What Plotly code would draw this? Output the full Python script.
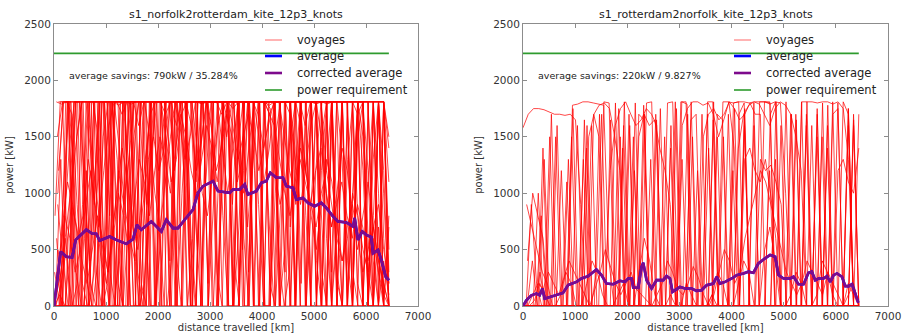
import numpy as np
import plotly.graph_objects as go

W, H = 904, 333

titles = ["s1_norfolk2rotterdam_kite_12p3_knots", "s1_rotterdam2norfolk_kite_12p3_knots"]
savings_text = ["average savings: 790kW / 35.284%", "average savings: 220kW / 9.827%"]
power_requirement = 2240
voyage_end_km = 6440
x_ticks = [0, 1000, 2000, 3000, 4000, 5000, 6000, 7000]
y_ticks = [0, 500, 1000, 1500, 2000, 2500]

# ---- left panel: norfolk -> rotterdam voyages (kW, sampled ~every 100 km) ----
left_offsets = [0, 50, 25, 75, 10, 60, 35, 85, 5, 55, 30, 80, 15, 65, 40, 90, 20, 70, 45, 95, 12, 62, 37, 87, 22, 72]
left_voyages = [
    [0, 300, 1200, 1810, 1810, 1810, 900, 200, 0, 0, 600, 1810, 1810, 1700, 1810, 1400, 300, 0, 800, 1810, 1810, 1810, 1810, 1200, 1810, 1810, 600, 0, 0, 1100, 1810, 1810, 1810, 1500, 1810, 1810, 1810, 700, 1300, 1810, 1810, 1810, 1810, 400, 0, 300, 1810, 1810, 1600, 1810, 1810, 900, 0, 0, 700, 1810, 1810, 1810, 200, 0, 0, 1300, 1810, 1000, 0],
    [600, 0, 0, 0, 200, 900, 1810, 1810, 1500, 0, 0, 0, 400, 1810, 1810, 1810, 1810, 800, 0, 0, 1300, 1810, 1810, 500, 0, 1810, 1810, 1810, 1810, 1810, 1100, 1810, 1810, 1810, 0, 0, 1200, 1810, 1810, 1810, 1810, 1700, 1810, 1810, 300, 1810, 1810, 1810, 800, 0, 0, 1500, 1810, 1810, 1810, 1300, 0, 0, 1810, 1810, 600, 0, 0, 400, 100],
    [0, 0, 1810, 1810, 300, 0, 0, 0, 1000, 1810, 1810, 1810, 200, 0, 700, 1810, 1600, 1810, 1810, 1810, 0, 0, 0, 1810, 1810, 1810, 1810, 1100, 1810, 1810, 1810, 300, 0, 1810, 1810, 1810, 1810, 1810, 1810, 900, 0, 1810, 1810, 1810, 1810, 1810, 1400, 0, 0, 1810, 1810, 1810, 1200, 1810, 1810, 0, 0, 900, 1810, 1810, 1810, 1810, 300, 0, 0],
    [1000, 1810, 1810, 600, 0, 0, 0, 300, 1810, 1810, 800, 1810, 1810, 1810, 0, 0, 0, 1200, 1810, 1810, 1810, 1810, 1810, 0, 1000, 1810, 1810, 400, 1810, 1810, 1810, 1810, 1810, 1600, 0, 700, 1810, 1810, 1810, 1810, 1810, 200, 0, 1810, 1810, 1810, 900, 1810, 1810, 1810, 400, 0, 1810, 1810, 800, 0, 0, 1810, 1810, 1500, 0, 0, 1810, 1810, 1400],
    [0, 100, 0, 500, 1810, 1810, 1810, 1810, 300, 0, 900, 1810, 1300, 0, 0, 1810, 1810, 1810, 1810, 1810, 700, 0, 1810, 1810, 1810, 1810, 0, 0, 1400, 1810, 1810, 1810, 1810, 1810, 1810, 1810, 500, 1810, 1810, 1810, 0, 0, 1810, 1810, 1810, 1810, 1810, 1810, 0, 0, 1810, 1810, 1810, 300, 1810, 1810, 1810, 0, 0, 0, 1100, 1810, 500, 0, 0],
    [200, 700, 1100, 900, 600, 800, 1300, 1000, 700, 1200, 1600, 1810, 1400, 900, 600, 400, 800, 1300, 1700, 1810, 1810, 1500, 1100, 1300, 1700, 1810, 1810, 1400, 1000, 800, 1200, 1600, 1810, 1810, 1810, 1300, 1000, 1400, 1810, 1810, 1810, 1700, 1200, 900, 1100, 1500, 1810, 1600, 1200, 800, 500, 900, 1300, 1100, 700, 400, 600, 1000, 800, 500, 300, 700, 900, 500, 200],
    [0, 0, 0, 0, 1500, 1810, 200, 0, 0, 0, 1810, 1810, 1810, 1810, 1000, 0, 0, 1810, 1810, 0, 0, 1300, 1810, 1810, 1810, 1810, 600, 0, 1810, 1810, 1810, 1810, 0, 0, 0, 1810, 1810, 1810, 1810, 1810, 1810, 1810, 1810, 0, 500, 1810, 1810, 0, 0, 1810, 1810, 1810, 1810, 1810, 300, 0, 0, 0, 1810, 1810, 1810, 0, 0, 0, 700],
    [1810, 1810, 1810, 1200, 0, 0, 1810, 1810, 900, 0, 0, 0, 1810, 1810, 1810, 600, 1810, 1810, 0, 0, 1810, 1810, 1810, 1810, 0, 0, 600, 1810, 1810, 1810, 0, 1100, 1810, 1810, 1810, 200, 1810, 1810, 1810, 1810, 0, 0, 1000, 1810, 1810, 1810, 1810, 200, 1810, 1810, 1810, 0, 0, 1810, 1810, 1810, 400, 0, 1810, 1200, 0, 800, 1810, 0, 0],
    [0, 400, 800, 600, 300, 500, 900, 1200, 800, 400, 200, 600, 1000, 1400, 1100, 700, 500, 900, 1300, 1500, 1200, 1400, 1810, 1810, 1600, 1300, 1500, 1810, 1810, 1810, 1600, 1200, 1400, 1700, 1500, 1100, 1300, 1810, 1810, 1700, 1400, 1600, 1810, 1810, 1500, 1200, 1000, 1300, 1100, 900, 1200, 1400, 1000, 700, 900, 1100, 800, 600, 900, 700, 400, 600, 300, 100, 0],
    [300, 0, 1810, 1810, 1810, 0, 0, 700, 1810, 1810, 0, 0, 0, 800, 1810, 1810, 1810, 1810, 1810, 0, 600, 1810, 1810, 0, 0, 1810, 1810, 1810, 1810, 1810, 1810, 1810, 800, 0, 1810, 1810, 1810, 1810, 0, 0, 1810, 1810, 1810, 1810, 1810, 700, 1810, 1810, 1810, 0, 0, 1200, 1810, 1810, 1810, 1810, 0, 0, 1500, 1810, 1810, 1810, 1000, 0, 0],
    [0, 1300, 0, 0, 0, 1810, 1810, 1810, 1810, 0, 200, 1810, 1810, 0, 0, 1500, 1810, 0, 1810, 1810, 1810, 1810, 1300, 0, 1810, 1810, 0, 0, 1810, 1810, 1810, 1810, 1810, 1810, 0, 1400, 1810, 1810, 0, 1810, 1810, 1810, 1810, 1810, 1810, 0, 0, 1810, 1810, 1810, 1810, 1810, 0, 0, 600, 1810, 1810, 1810, 1810, 0, 0, 0, 1810, 1810, 300],
    [500, 0, 0, 1810, 1810, 1810, 1810, 900, 1810, 1810, 300, 0, 1810, 1810, 1810, 0, 0, 1300, 1810, 1810, 1810, 0, 0, 0, 1810, 1810, 1810, 1810, 1810, 200, 1810, 1810, 1810, 0, 0, 1810, 1810, 1810, 1200, 0, 1810, 1810, 1810, 1810, 0, 0, 1810, 1810, 1810, 1810, 1810, 300, 0, 1810, 1810, 1810, 0, 1000, 1810, 1810, 0, 0, 0, 0, 800],
    [0, 0, 600, 0, 0, 0, 1810, 1810, 1810, 1810, 1810, 0, 0, 1810, 1810, 1810, 0, 0, 0, 1810, 1810, 1810, 1810, 1810, 1810, 1400, 0, 1810, 1810, 1810, 1810, 0, 1000, 1810, 1810, 1810, 1810, 0, 1810, 1810, 1810, 800, 0, 1810, 1810, 1810, 1810, 1810, 1810, 0, 1200, 1810, 1810, 1810, 0, 0, 0, 1810, 1810, 1810, 1810, 600, 0, 1810, 200],
    [1500, 1810, 300, 0, 0, 0, 0, 1810, 1810, 400, 0, 1810, 1810, 1810, 1810, 1810, 0, 0, 1810, 1810, 1810, 1000, 0, 1810, 1810, 1810, 1810, 1810, 0, 0, 1810, 1810, 1810, 1810, 1810, 1810, 600, 0, 1810, 1810, 0, 0, 1810, 1810, 1810, 1810, 0, 1810, 1810, 1810, 1810, 1810, 1810, 1810, 0, 0, 1810, 1810, 800, 0, 1810, 1810, 1810, 1200, 0],
    [100, 300, 700, 1100, 1500, 1810, 1810, 1300, 900, 500, 300, 700, 1200, 900, 1300, 1810, 1810, 1810, 1500, 1000, 700, 1100, 1500, 1810, 1810, 1810, 1600, 1200, 1500, 1810, 1810, 1810, 1400, 1000, 1400, 1810, 1810, 1810, 1810, 1500, 1100, 1400, 1810, 1810, 1810, 1700, 1300, 900, 1200, 1600, 1810, 1500, 1000, 700, 1000, 1400, 1200, 800, 500, 800, 1100, 700, 400, 200, 0],
    [0, 0, 0, 1810, 1810, 600, 0, 1810, 1810, 1810, 1810, 0, 0, 0, 1810, 1810, 200, 0, 1810, 1810, 1810, 1810, 1810, 0, 0, 1810, 1810, 1810, 1810, 0, 900, 1810, 1810, 1810, 1810, 1810, 0, 1810, 1810, 1810, 1810, 0, 1500, 1810, 1810, 0, 0, 1810, 1810, 1810, 0, 0, 1810, 1810, 1810, 1810, 1810, 300, 0, 0, 1810, 1810, 0, 0, 0],
    [800, 1810, 1810, 1810, 0, 0, 1200, 0, 0, 1810, 1810, 1810, 600, 0, 1810, 1810, 1810, 1810, 0, 0, 1810, 1810, 0, 1810, 1810, 1810, 1810, 700, 0, 1810, 1810, 1810, 1810, 0, 1810, 1810, 1810, 1810, 1810, 0, 0, 1810, 1810, 1810, 1810, 1810, 0, 0, 1810, 1810, 1810, 1810, 1000, 0, 1810, 1810, 1810, 0, 0, 1810, 1810, 400, 0, 1810, 1100],
    [0, 0, 1810, 0, 0, 800, 1810, 1810, 0, 0, 1810, 1810, 1810, 1810, 0, 0, 1810, 1810, 1810, 0, 1810, 1810, 1810, 1810, 1810, 0, 0, 1810, 1810, 1810, 1500, 0, 1810, 1810, 1810, 1810, 0, 0, 1810, 1810, 1810, 1810, 1810, 0, 1810, 1810, 1810, 1810, 0, 900, 1810, 1810, 1810, 0, 0, 1810, 1810, 1810, 1810, 1810, 0, 0, 700, 0, 0],
    [1810, 1790, 1810, 1700, 900, 200, 0, 0, 400, 1500, 1810, 1810, 1780, 1810, 1200, 500, 0, 200, 1000, 1810, 1810, 1700, 1810, 1810, 1600, 800, 1810, 1810, 1790, 1810, 0, 0, 1810, 1810, 1750, 1810, 1810, 300, 1810, 1810, 1810, 1780, 1810, 1810, 1100, 0, 1200, 1810, 1810, 1810, 1790, 1810, 600, 0, 0, 1810, 1810, 1810, 1700, 1810, 300, 0, 1810, 1810, 1500],
    [0, 700, 1400, 1810, 1810, 1000, 400, 1200, 1810, 1810, 1810, 0, 0, 1810, 1790, 1810, 1810, 900, 1400, 1810, 0, 0, 500, 1810, 1810, 1810, 1810, 1810, 1810, 0, 1810, 1810, 1810, 1810, 400, 0, 1810, 1810, 1810, 1810, 1810, 1750, 0, 900, 1810, 1810, 1810, 1810, 0, 1810, 1810, 1810, 1790, 1810, 200, 0, 1300, 1810, 1810, 0, 0, 1810, 1810, 600, 0],
    [300, 0, 0, 0, 1810, 1810, 1810, 1300, 0, 1810, 1810, 1810, 1810, 1810, 0, 1200, 1810, 1810, 1810, 1810, 1810, 1810, 0, 0, 1810, 1810, 1810, 1810, 0, 1810, 1810, 1810, 1700, 1810, 1810, 1810, 0, 0, 1810, 1810, 1810, 1810, 1810, 0, 1810, 1810, 1810, 1810, 1200, 1810, 1810, 0, 0, 1810, 1810, 1810, 1810, 1810, 1810, 0, 0, 1810, 1810, 1810, 0],
    [0, 0, 1810, 1810, 1810, 1810, 0, 0, 0, 1810, 1810, 0, 0, 1100, 1810, 1810, 1810, 1810, 0, 0, 1810, 1810, 1810, 1600, 1810, 1810, 1810, 1810, 0, 1810, 1810, 1810, 1810, 1810, 0, 0, 1810, 1810, 0, 1810, 1810, 1810, 1810, 1810, 1810, 1810, 0, 1810, 1810, 1810, 0, 0, 1810, 1810, 1810, 1810, 0, 0, 1810, 1810, 1810, 1810, 1810, 0, 0],
    [0, 200, 500, 900, 700, 400, 200, 500, 800, 600, 300, 600, 1000, 800, 500, 900, 1300, 1100, 800, 1200, 1500, 1300, 1000, 1400, 1700, 1500, 1200, 1000, 1300, 1600, 1400, 1100, 1500, 1800, 1600, 1300, 1500, 1700, 1500, 1200, 1400, 1700, 1600, 1300, 1000, 800, 1100, 1400, 1200, 900, 700, 1000, 1200, 900, 600, 400, 700, 900, 600, 300, 500, 700, 400, 200, 0],
    [1200, 1810, 1810, 0, 0, 0, 1810, 1810, 1810, 0, 0, 1810, 1810, 1810, 1810, 0, 0, 0, 1810, 1810, 1810, 1810, 1810, 1810, 1810, 0, 0, 1810, 1810, 1810, 1810, 0, 1810, 1810, 1810, 0, 1810, 1810, 1810, 1810, 1810, 1810, 1810, 0, 0, 1810, 1810, 1810, 1810, 1810, 0, 1810, 1810, 0, 0, 0, 1810, 1810, 1810, 1810, 0, 0, 1810, 1810, 0],
    [0, 0, 0, 1200, 1810, 0, 0, 1810, 1810, 1810, 1810, 900, 0, 1810, 1810, 0, 0, 1810, 1810, 1810, 1810, 1810, 400, 1810, 1810, 1810, 0, 0, 1810, 1810, 1810, 1810, 1810, 1810, 900, 1810, 1810, 1810, 0, 0, 1810, 1810, 1810, 1810, 1810, 1810, 0, 1810, 1810, 1810, 1810, 0, 0, 1810, 1810, 1810, 1810, 0, 1810, 1810, 1200, 0, 0, 1810, 500],
    [900, 400, 0, 0, 0, 0, 600, 1810, 1810, 1810, 0, 1810, 1810, 1810, 0, 0, 1810, 1810, 1810, 1810, 0, 1810, 1810, 1810, 1810, 1810, 0, 1810, 1810, 1810, 1810, 1810, 1810, 0, 0, 1810, 1810, 1810, 1810, 1810, 0, 0, 1810, 1810, 1810, 1810, 1810, 1810, 1810, 0, 0, 1810, 1810, 1810, 0, 1810, 1810, 1810, 0, 0, 0, 1810, 1810, 0, 0],
]

# ---- right panel: rotterdam -> norfolk voyages (kW, sampled ~every 100 km) ----
right_offsets = [0, 50, 25, 75, 10, 60, 35, 85, 5, 55, 30, 80, 15, 65, 40, 90, 20, 70, 45, 95, 12, 62, 37, 87]
right_voyages = [
    [1580, 1700, 1750, 1750, 1740, 1720, 1700, 1700, 1690, 1700, 1650, 900, 0, 0, 300, 1700, 0, 0, 0, 1400, 0, 0, 0, 1780, 0, 0, 0, 1500, 0, 0, 0, 0, 1650, 1700, 0, 0, 100, 0, 0, 0, 1200, 0, 0, 0, 1800, 0, 0, 1200, 0, 0, 0, 0, 1700, 0, 0, 0, 0, 1500, 0, 0, 0, 0, 1600, 0, 0],
    [0, 0, 0, 800, 0, 0, 0, 0, 0, 1780, 1790, 1810, 1810, 1800, 1790, 1780, 400, 0, 0, 0, 1600, 0, 0, 0, 0, 1700, 0, 0, 0, 0, 1810, 1790, 0, 0, 0, 0, 0, 0, 1500, 0, 0, 0, 1700, 0, 0, 0, 0, 0, 1300, 0, 0, 0, 0, 1810, 0, 0, 0, 0, 0, 1700, 1750, 0, 0, 0, 0],
    [0, 0, 0, 300, 0, 0, 1500, 0, 0, 0, 0, 0, 1600, 0, 0, 0, 0, 0, 0, 1600, 0, 0, 0, 1700, 0, 0, 0, 0, 1400, 0, 0, 0, 0, 0, 1700, 0, 0, 0, 1810, 1810, 1800, 1810, 1810, 1800, 1810, 1810, 1810, 1790, 1810, 1800, 1000, 0, 0, 0, 0, 1600, 0, 0, 0, 0, 1800, 0, 0, 0, 0],
    [0, 0, 0, 0, 0, 0, 0, 0, 1300, 0, 0, 0, 0, 0, 1700, 0, 0, 0, 1500, 0, 0, 0, 0, 0, 0, 1650, 0, 0, 0, 0, 0, 1700, 0, 0, 0, 0, 1810, 0, 0, 0, 0, 0, 1750, 0, 0, 0, 0, 0, 0, 1600, 0, 0, 0, 0, 1810, 1810, 1800, 1810, 1810, 1790, 1810, 1750, 1300, 0, 0],
    [0, 0, 0, 0, 0, 1500, 0, 0, 0, 0, 0, 0, 0, 1600, 0, 0, 0, 0, 0, 0, 0, 0, 1700, 1650, 0, 0, 0, 0, 0, 0, 0, 0, 1810, 0, 0, 0, 0, 1500, 0, 0, 0, 0, 0, 0, 0, 0, 1810, 1810, 0, 0, 0, 0, 0, 0, 1700, 0, 0, 0, 1400, 0, 0, 0, 0, 1700, 0],
    [0, 900, 200, 0, 0, 0, 0, 0, 0, 1750, 0, 0, 0, 1700, 1500, 0, 0, 0, 0, 0, 0, 1800, 0, 0, 0, 0, 0, 0, 0, 0, 1300, 0, 0, 0, 0, 0, 1650, 0, 0, 0, 0, 0, 1600, 0, 0, 0, 0, 0, 0, 0, 1810, 0, 0, 0, 0, 0, 0, 0, 0, 0, 0, 1810, 1700, 0, 0],
    [0, 0, 0, 0, 0, 0, 0, 1200, 0, 0, 0, 0, 0, 0, 0, 0, 0, 0, 1750, 0, 0, 0, 0, 0, 0, 0, 0, 0, 1600, 0, 0, 0, 0, 0, 0, 1700, 0, 0, 0, 0, 0, 0, 0, 0, 0, 1810, 1810, 1800, 0, 0, 0, 0, 0, 0, 0, 0, 1500, 0, 0, 0, 0, 0, 0, 1650, 0],
    [0, 0, 0, 1400, 0, 0, 0, 0, 0, 0, 0, 1650, 0, 0, 0, 0, 0, 1800, 0, 0, 0, 0, 0, 1800, 1810, 0, 0, 0, 0, 0, 0, 0, 0, 0, 0, 1400, 0, 0, 0, 0, 1750, 0, 0, 0, 0, 0, 0, 0, 0, 0, 0, 1700, 0, 0, 0, 0, 0, 1800, 0, 0, 0, 0, 0, 0, 0],
    [0, 0, 0, 0, 1300, 0, 0, 0, 0, 0, 0, 0, 0, 0, 0, 0, 0, 0, 0, 0, 0, 1500, 0, 0, 0, 0, 0, 0, 0, 1810, 0, 0, 0, 0, 0, 0, 0, 1700, 1650, 0, 0, 0, 0, 0, 1600, 0, 0, 0, 0, 0, 0, 0, 0, 0, 1600, 0, 0, 0, 0, 0, 0, 0, 1750, 0, 0],
    [0, 0, 0, 0, 0, 0, 1600, 0, 0, 0, 0, 0, 0, 0, 0, 1810, 1800, 0, 0, 0, 0, 0, 0, 0, 1300, 0, 0, 0, 0, 0, 0, 0, 0, 1200, 0, 0, 0, 0, 0, 0, 0, 0, 0, 0, 0, 0, 0, 1700, 1810, 0, 0, 0, 0, 0, 0, 0, 1750, 0, 0, 0, 0, 0, 0, 0, 1700],
    [0, 0, 0, 0, 0, 0, 0, 0, 0, 1500, 0, 0, 0, 0, 0, 0, 0, 0, 0, 0, 1700, 0, 0, 0, 0, 0, 1750, 0, 0, 0, 0, 0, 0, 0, 0, 0, 0, 0, 0, 0, 1800, 1810, 0, 0, 0, 0, 0, 0, 0, 0, 0, 0, 0, 0, 0, 0, 0, 0, 0, 1810, 0, 0, 0, 0, 0],
    [0, 400, 0, 0, 0, 0, 0, 0, 0, 0, 0, 0, 0, 0, 0, 0, 1200, 1600, 1750, 1810, 1700, 1600, 1650, 1750, 1700, 1600, 0, 0, 0, 0, 0, 0, 0, 0, 1500, 1700, 1750, 1650, 1700, 1810, 1750, 1650, 1700, 1800, 1700, 1700, 0, 0, 0, 0, 0, 0, 0, 1810, 1810, 0, 0, 0, 0, 0, 0, 0, 0, 0, 0],
    [0, 0, 0, 0, 0, 0, 0, 0, 0, 0, 0, 0, 1400, 0, 0, 0, 0, 0, 0, 0, 0, 0, 0, 0, 0, 0, 0, 0, 0, 0, 1810, 1810, 0, 0, 0, 0, 0, 0, 0, 0, 0, 0, 0, 0, 0, 0, 0, 0, 0, 0, 0, 1700, 0, 0, 0, 0, 0, 0, 0, 0, 0, 0, 0, 0, 0],
    [0, 0, 0, 0, 0, 0, 0, 0, 0, 0, 0, 0, 1500, 1700, 1780, 1800, 1750, 1500, 1200, 0, 0, 0, 0, 0, 0, 0, 0, 0, 0, 0, 1600, 1750, 1810, 1810, 1780, 1800, 1700, 1500, 1650, 1810, 1400, 0, 0, 0, 0, 0, 0, 0, 0, 0, 0, 0, 0, 0, 0, 0, 0, 0, 0, 0, 0, 0, 1750, 0, 0],
    [0, 0, 0, 0, 0, 0, 0, 0, 1100, 0, 0, 0, 0, 0, 0, 0, 0, 0, 0, 0, 0, 0, 0, 0, 0, 0, 0, 0, 0, 0, 0, 0, 0, 0, 0, 1810, 1810, 0, 0, 0, 0, 0, 0, 0, 0, 0, 0, 0, 0, 0, 0, 0, 0, 0, 0, 0, 0, 0, 0, 0, 0, 0, 0, 1600, 0],
    [0, 100, 200, 150, 300, 200, 100, 250, 400, 300, 200, 100, 0, 150, 300, 500, 350, 200, 100, 200, 300, 150, 100, 50, 0, 100, 200, 400, 300, 150, 100, 200, 350, 250, 100, 0, 100, 300, 500, 400, 200, 300, 600, 800, 1000, 1200, 1100, 900, 700, 500, 300, 200, 100, 200, 400, 300, 200, 100, 300, 200, 100, 0, 100, 200, 0],
    [0, 0, 50, 200, 100, 0, 0, 100, 300, 200, 0, 0, 200, 400, 300, 100, 0, 0, 100, 200, 0, 0, 300, 600, 400, 100, 0, 0, 100, 0, 0, 200, 100, 0, 0, 0, 100, 300, 200, 0, 0, 200, 400, 300, 0, 0, 500, 700, 400, 0, 0, 100, 300, 200, 0, 0, 100, 400, 300, 100, 0, 0, 200, 100, 0],
    [900, 700, 500, 300, 200, 0, 0, 0, 0, 0, 0, 0, 0, 0, 0, 0, 0, 0, 0, 0, 0, 0, 0, 0, 0, 0, 0, 0, 0, 0, 0, 0, 0, 0, 0, 0, 0, 0, 0, 0, 0, 0, 1300, 1400, 1200, 1100, 1300, 1000, 600, 0, 0, 0, 0, 0, 0, 0, 0, 0, 0, 0, 1200, 1300, 1100, 1000, 1400],
    [0, 0, 0, 0, 0, 1700, 0, 0, 0, 0, 1600, 0, 0, 0, 0, 0, 0, 0, 0, 1810, 0, 0, 0, 0, 0, 0, 0, 0, 0, 1750, 0, 0, 0, 0, 0, 0, 0, 0, 0, 0, 0, 1700, 1800, 0, 0, 0, 0, 0, 0, 0, 0, 0, 1650, 0, 0, 0, 0, 0, 0, 0, 0, 0, 0, 0, 0],
    [0, 0, 1000, 0, 0, 0, 0, 0, 0, 0, 0, 0, 0, 0, 0, 0, 1650, 0, 0, 0, 0, 0, 0, 0, 0, 0, 0, 1800, 1810, 0, 0, 0, 0, 0, 0, 0, 0, 0, 0, 0, 0, 0, 0, 0, 0, 0, 0, 0, 1810, 0, 0, 0, 0, 0, 0, 0, 0, 0, 1780, 0, 0, 0, 0, 0, 0],
    [0, 0, 0, 0, 0, 0, 0, 0, 0, 0, 0, 0, 0, 0, 0, 0, 0, 0, 0, 0, 0, 0, 1500, 1700, 1600, 1650, 1400, 1200, 900, 0, 0, 0, 0, 0, 0, 0, 0, 0, 0, 0, 0, 1400, 1700, 1780, 1810, 1790, 1700, 1600, 1750, 1810, 1780, 1700, 1500, 1200, 0, 0, 0, 0, 0, 0, 0, 0, 0, 0, 0],
    [0, 0, 0, 0, 0, 0, 0, 0, 0, 0, 0, 1300, 0, 0, 0, 0, 0, 0, 0, 0, 0, 0, 0, 0, 0, 0, 0, 0, 0, 0, 0, 0, 1500, 0, 0, 0, 0, 0, 0, 0, 0, 0, 0, 0, 0, 0, 0, 0, 0, 0, 0, 0, 0, 0, 0, 0, 1700, 0, 0, 0, 0, 0, 0, 0, 0],
    [0, 0, 0, 0, 0, 0, 0, 0, 0, 0, 0, 0, 0, 0, 0, 0, 0, 0, 0, 0, 0, 1200, 0, 0, 0, 0, 0, 0, 0, 0, 0, 0, 0, 0, 0, 0, 0, 0, 0, 1700, 0, 0, 0, 0, 0, 0, 0, 0, 0, 0, 0, 0, 0, 0, 0, 0, 0, 0, 1600, 0, 0, 0, 0, 0, 0],
    [400, 1000, 800, 600, 0, 0, 0, 0, 0, 0, 0, 0, 0, 0, 0, 0, 0, 0, 0, 0, 0, 0, 0, 0, 0, 0, 0, 0, 0, 0, 0, 0, 0, 0, 0, 0, 0, 0, 0, 0, 0, 0, 0, 0, 0, 1300, 1200, 1250, 1100, 900, 0, 0, 0, 0, 0, 0, 0, 0, 0, 0, 0, 0, 0, 0, 0],
]

# ---- corrected averages (kW) ----
left_avg_km = [0, 128, 237, 350, 417, 622, 737, 814, 878, 1070, 1199, 1391, 1519, 1596, 1679, 1872, 2064, 2160, 2288, 2385, 2513, 2673, 2769, 2865, 3058, 3154, 3378, 3442, 3571, 3667, 3731, 3891, 3987, 4083, 4160, 4276, 4404, 4468, 4596, 4660, 4788, 4885, 5013, 5141, 5237, 5365, 5462, 5622, 5750, 5782, 5846, 5929, 6006, 6103, 6135, 6231, 6295, 6378, 6442]
left_avg_kw = [0, 482, 437, 431, 586, 676, 640, 640, 580, 616, 586, 551, 592, 720, 676, 750, 661, 765, 690, 690, 765, 854, 1003, 1062, 1107, 1018, 1003, 1033, 1033, 1077, 988, 1018, 1092, 1107, 1181, 1137, 1137, 1062, 1048, 943, 958, 914, 884, 914, 869, 795, 750, 741, 705, 780, 586, 661, 631, 610, 467, 497, 408, 259, 229]
right_avg_km = [0, 64, 160, 256, 320, 372, 416, 512, 640, 768, 865, 1025, 1121, 1249, 1313, 1409, 1505, 1601, 1730, 1858, 1954, 2018, 2082, 2114, 2210, 2274, 2306, 2370, 2466, 2562, 2690, 2754, 2818, 2869, 3010, 3106, 3234, 3330, 3426, 3522, 3650, 3714, 3778, 3875, 4003, 4099, 4227, 4323, 4419, 4515, 4643, 4739, 4836, 4900, 4996, 5124, 5188, 5284, 5380, 5476, 5540, 5604, 5668, 5764, 5829, 5893, 5957, 6021, 6117, 6181, 6245, 6309, 6373, 6405, 6430]
right_avg_kw = [0, 51, 95, 110, 95, 155, 65, 80, 101, 116, 185, 214, 244, 265, 289, 324, 274, 199, 193, 223, 214, 244, 244, 164, 161, 348, 384, 229, 155, 229, 229, 265, 244, 125, 170, 155, 155, 134, 140, 185, 199, 259, 199, 214, 244, 274, 289, 304, 295, 378, 423, 452, 437, 274, 244, 244, 259, 193, 193, 295, 304, 229, 244, 244, 265, 214, 274, 289, 259, 176, 176, 193, 110, 51, 30]

FONT = "DejaVu Sans"
RED = "rgba(255,0,0,0.72)"
BLUE = "#0000ff"
PURPLE = "#7d0a8c"
GREEN = "#2e9b2e"

panels = [
    dict(x0=54, x1=418, xa="x", ya="y"),
    dict(x0=523, x1=888, xa="x2", ya="y2"),
]
top_px, bot_px = 24, 306

fig = go.Figure()

def voyage_xy(voyages, offsets):
    xs, ys = [], []
    for vals, off in zip(voyages, offsets):
        xx = np.linspace(off, voyage_end_km, len(vals))
        xs += list(xx) + [None]
        ys += list(vals) + [None]
    return xs, ys

datasets = [
    (left_voyages, left_offsets, left_avg_km, left_avg_kw),
    (right_voyages, right_offsets, right_avg_km, right_avg_kw),
]

for p, (voy, offs, akm, akw) in zip(panels, datasets):
    vx, vy = voyage_xy(voy, offs)
    fig.add_trace(go.Scatter(x=vx, y=vy, mode="lines", line=dict(color=RED, width=1.0),
                             xaxis=p["xa"], yaxis=p["ya"], showlegend=False, hoverinfo="skip"))
    fig.add_trace(go.Scatter(x=[0, voyage_end_km], y=[power_requirement] * 2, mode="lines",
                             line=dict(color=GREEN, width=1.6), xaxis=p["xa"], yaxis=p["ya"], showlegend=False))
    fig.add_trace(go.Scatter(x=akm, y=akw, mode="lines", line=dict(color=BLUE, width=2.6),
                             xaxis=p["xa"], yaxis=p["ya"], showlegend=False))
    fig.add_trace(go.Scatter(x=akm, y=akw, mode="lines", line=dict(color=PURPLE, width=2.6),
                             xaxis=p["xa"], yaxis=p["ya"], showlegend=False))

axis_common = dict(
    showgrid=False, zeroline=False, showline=True, linecolor="#8c8c8c", linewidth=1,
    mirror="ticks", ticks="inside", ticklen=4, tickcolor="#8c8c8c", automargin=False,
    tickfont=dict(family=FONT, size=10.5, color="#333333"),
)

layout = dict(
    width=W, height=H, margin=dict(l=0, r=0, t=0, b=0, autoexpand=False),
    paper_bgcolor="white", plot_bgcolor="white", showlegend=False,
    font=dict(family=FONT, color="#222222"),
)
ydom = [1 - bot_px / H, 1 - top_px / H]
for i, p in enumerate(panels):
    sfx = "" if i == 0 else "2"
    layout["xaxis" + sfx] = dict(axis_common, domain=[p["x0"] / W, p["x1"] / W], range=[0, 7000],
                                 tickvals=x_ticks, anchor="y" + sfx,
                                 title=dict(text="distance travelled [km]", font=dict(family=FONT, size=10, color="#333333"), standoff=2))
    layout["yaxis" + sfx] = dict(axis_common, domain=ydom, range=[0, 2500], tickvals=y_ticks,
                                 anchor="x" + sfx,
                                 title=dict(text="power [kW]", font=dict(family=FONT, size=10, color="#333333"), standoff=8))
fig.update_layout(**layout)

annotations = []
shapes = []
legend_items = [("voyages", "rgba(255,0,0,0.5)", 1.2), ("average", BLUE, 2.6),
                ("corrected average", PURPLE, 2.6), ("power requirement", GREEN, 1.6)]
legend_y_px = [40, 56, 73, 90]
legend_line_x = [(265, 282), (734, 751)]
for i, p in enumerate(panels):
    sfx = "" if i == 0 else "2"
    cx = (p["x0"] + p["x1"]) / 2
    annotations.append(dict(text=titles[i], x=cx / W, y=1 - 15 / H, xref="paper", yref="paper",
                            showarrow=False, xanchor="center", yanchor="middle",
                            font=dict(family=FONT, size=11, color="#222222")))
    annotations.append(dict(text=savings_text[i], x=250, y=2045, xref="x" + sfx, yref="y" + sfx,
                            showarrow=False, xanchor="left", yanchor="middle",
                            font=dict(family=FONT, size=9.5, color="#222222")))
    lx0, lx1 = legend_line_x[i]
    for (name, col, w), ypx in zip(legend_items, legend_y_px):
        shapes.append(dict(type="line", xref="paper", yref="paper", x0=lx0 / W, x1=lx1 / W,
                           y0=1 - ypx / H, y1=1 - ypx / H, line=dict(color=col, width=w)))
        annotations.append(dict(text=name, x=(lx1 + 13) / W, y=1 - ypx / H, xref="paper", yref="paper",
                                showarrow=False, xanchor="left", yanchor="middle",
                                font=dict(family=FONT, size=11.5, color="#222222")))
fig.update_layout(annotations=annotations, shapes=shapes)

fig.write_html("out.html")
